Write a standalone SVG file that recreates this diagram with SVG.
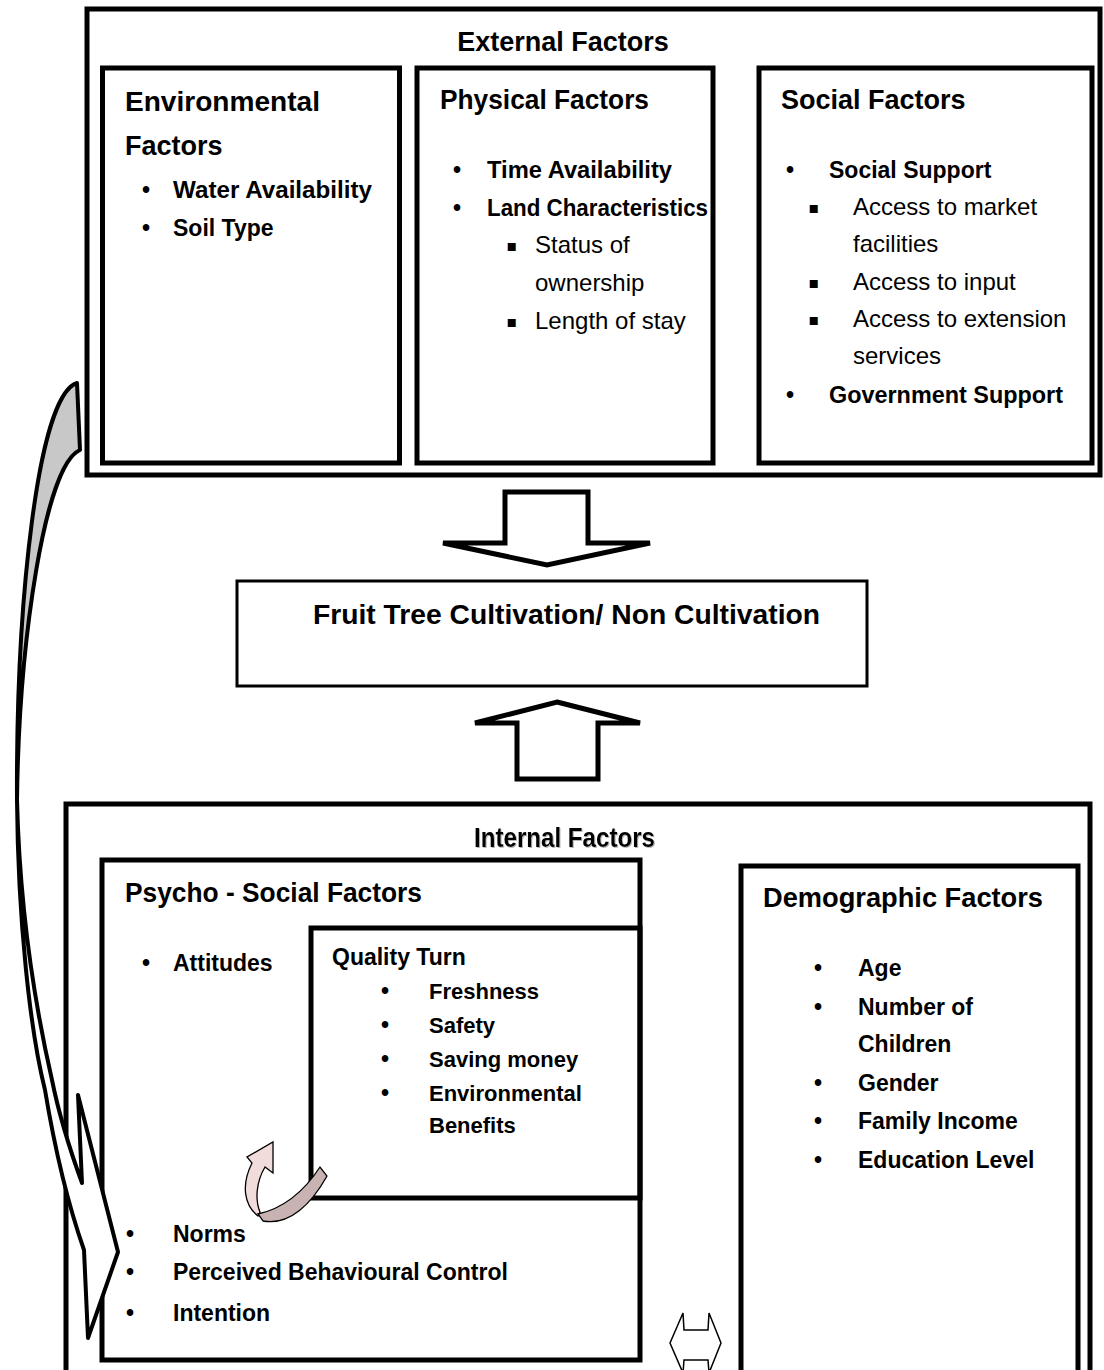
<svg xmlns="http://www.w3.org/2000/svg" width="1104" height="1370" viewBox="0 0 1104 1370">
<style>
text{font-family:"Liberation Sans",Arial,sans-serif;fill:#000}
.h{font-weight:bold;font-size:27px}
.b{font-weight:bold;font-size:23px}
.q{font-weight:bold;font-size:22px}
.r{font-size:24px}
.bu{font-weight:bold;font-size:23px;text-anchor:middle}
.sq{font-family:"DejaVu Sans",sans-serif;font-size:16px;text-anchor:middle}
.box{fill:none;stroke:#000;stroke-width:5}
.blk{fill:#fff;stroke:#000;stroke-width:5;stroke-linejoin:miter}
</style>
<defs>
<filter id="shadow" x="-5%" y="-20%" width="110%" height="140%">
<feDropShadow dx="1" dy="1" stdDeviation="0.6" flood-color="#888" flood-opacity="0.6"/>
</filter>
</defs>
<rect width="1104" height="1370" fill="#fff"/>

<g id="external">
<rect class="box" x="87" y="9" width="1013" height="466" stroke-width="6"/>
<text class="h" x="563" y="51" text-anchor="middle">External Factors</text>
</g>

<g id="environmental">
<rect class="box" x="102.5" y="68" width="297" height="395"/>
<text class="h" x="125" y="111" textLength="195" lengthAdjust="spacingAndGlyphs">Environmental</text>
<text class="h" x="125" y="155">Factors</text>
<text class="bu" x="146" y="198">•</text><text class="b" x="173" y="198" textLength="199" lengthAdjust="spacingAndGlyphs">Water Availability</text>
<text class="bu" x="146" y="236">•</text><text class="b" x="173" y="236">Soil Type</text>
</g>

<g id="physical">
<rect class="box" x="417" y="68" width="296" height="395"/>
<text class="h" x="440" y="109" textLength="209" lengthAdjust="spacingAndGlyphs">Physical Factors</text>
<text class="bu" x="457" y="178">•</text><text class="b" x="487" y="178" textLength="185" lengthAdjust="spacingAndGlyphs">Time Availability</text>
<text class="bu" x="457" y="216">•</text><text class="b" x="487" y="216" textLength="221" lengthAdjust="spacingAndGlyphs">Land Characteristics</text>
<text class="sq" x="512" y="251">▪</text><text class="r" x="535" y="253">Status of</text>
<text class="r" x="535" y="291">ownership</text>
<text class="sq" x="512" y="327">▪</text><text class="r" x="535" y="329">Length of stay</text>
</g>

<g id="social">
<rect class="box" x="759" y="68" width="333" height="395"/>
<text class="h" x="781" y="109">Social Factors</text>
<text class="bu" x="790" y="178">•</text><text class="b" x="829" y="178">Social Support</text>
<text class="sq" x="814" y="213">▪</text><text class="r" x="853" y="215">Access to market</text>
<text class="r" x="853" y="252">facilities</text>
<text class="sq" x="814" y="288">▪</text><text class="r" x="853" y="290">Access to input</text>
<text class="sq" x="814" y="325">▪</text><text class="r" x="853" y="327">Access to extension</text>
<text class="r" x="853" y="364">services</text>
<text class="bu" x="790" y="403">•</text><text class="b" x="829" y="403" textLength="234" lengthAdjust="spacingAndGlyphs">Government Support</text>
</g>

<g id="outcome">
<rect x="237" y="581" width="630" height="105" fill="none" stroke="#000" stroke-width="3"/>
<text class="h" x="313" y="624" font-size="28" textLength="507" lengthAdjust="spacingAndGlyphs">Fruit Tree Cultivation/ Non Cultivation</text>
</g>

<g id="internal">
<rect class="box" x="66" y="804" width="1024" height="620"/>
<text class="h" x="474" y="847" font-size="25" textLength="181" lengthAdjust="spacingAndGlyphs" filter="url(#shadow)">Internal Factors</text>
</g>

<g id="psychosocial">
<rect class="box" x="102" y="860" width="538" height="500"/>
<text class="h" x="125" y="902" textLength="297" lengthAdjust="spacingAndGlyphs">Psycho - Social Factors</text>
<text class="bu" x="146" y="971">•</text><text class="b" x="173" y="971">Attitudes</text>
<text class="bu" x="130" y="1242">•</text><text class="b" x="173" y="1242">Norms</text>
<text class="bu" x="130" y="1280">•</text><text class="b" x="173" y="1280">Perceived Behavioural Control</text>
<text class="bu" x="130" y="1321">•</text><text class="b" x="173" y="1321">Intention</text>
</g>

<g id="quality">
<rect class="box" x="311" y="928" width="329" height="270"/>
<text class="b" x="332" y="965">Quality Turn</text>
<text class="bu" x="385" y="999">•</text><text class="q" x="429" y="999">Freshness</text>
<text class="bu" x="385" y="1033">•</text><text class="q" x="429" y="1033">Safety</text>
<text class="bu" x="385" y="1067">•</text><text class="q" x="429" y="1067">Saving money</text>
<text class="bu" x="385" y="1101">•</text><text class="q" x="429" y="1101">Environmental</text>
<text class="q" x="429" y="1133">Benefits</text>
</g>

<g id="demographic">
<rect class="box" x="741" y="866" width="337" height="600"/>
<text class="h" x="763" y="907" textLength="280" lengthAdjust="spacingAndGlyphs">Demographic Factors</text>
<text class="bu" x="818" y="976">•</text><text class="b" x="858" y="976">Age</text>
<text class="bu" x="818" y="1015">•</text><text class="b" x="858" y="1015">Number of</text>
<text class="b" x="858" y="1052">Children</text>
<text class="bu" x="818" y="1091">•</text><text class="b" x="858" y="1091">Gender</text>
<text class="bu" x="818" y="1129">•</text><text class="b" x="858" y="1129">Family Income</text>
<text class="bu" x="818" y="1168">•</text><text class="b" x="858" y="1168">Education Level</text>
</g>

<g id="connectors">
<polygon class="blk" points="505,492 588,492 588,543 650,543 547,565 443,543 505,543"/>
<polygon class="blk" points="557,702 640,723 598,723 598,779 517,779 517,723 475,723"/>
<polygon points="670,1343 683,1313 684,1330 708,1330 709,1313 721,1343 709,1373 708,1360 684,1360 683,1373" fill="#fff" stroke="#000" stroke-width="1.5"/>
<path d="M77,383 C38,395 16,600 17,800 C19,640 45,465 80,450 Z" fill="#c8c8c8" stroke="#000" stroke-width="4" stroke-linejoin="round"/>
<path d="M17,800 C18,920 30,1030 45,1090 C55,1150 70,1210 84,1250 L88,1338 L118,1252 L78,1095 L82,1183 C70,1150 58,1110 52,1080 C36,1010 20,920 17,800 Z" fill="#fff" stroke="#000" stroke-width="4" stroke-linejoin="round"/>
<path d="M258,1216 C244,1205 241,1185 252,1163 L247,1157 L273,1142 L273,1173 L265,1167 C256,1182 255,1200 260,1212 Z" fill="#f2dcdb" stroke="#000" stroke-width="1.3"/>
<path d="M320,1167 C305,1190 285,1208 258,1214 L263,1221 C290,1226 312,1203 327,1176 Z" fill="#c9b2b2" stroke="#000" stroke-width="1.3"/>
</g>
</svg>
